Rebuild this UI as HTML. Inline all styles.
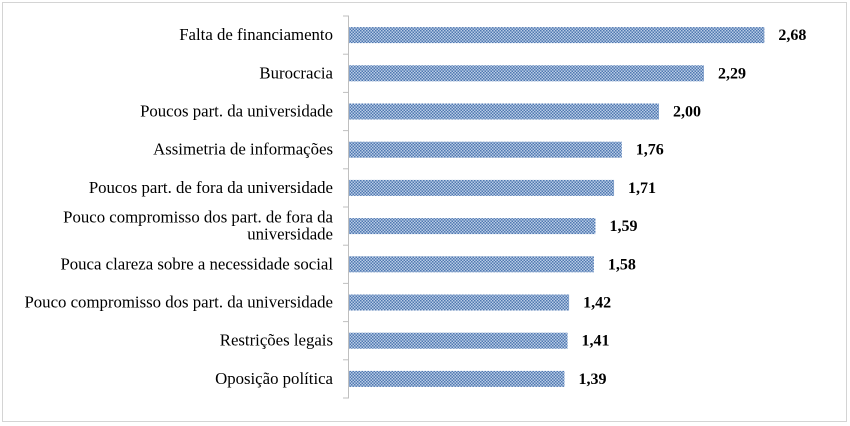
<!DOCTYPE html>
<html><head><meta charset="utf-8"><style>
html,body{margin:0;padding:0;background:#fff;}
svg{display:block;}
</style></head><body>
<svg id="chart" width="850" height="426">
<defs>
<pattern id="dots" width="3" height="3" patternUnits="userSpaceOnUse">
<rect width="3" height="3" fill="#b9cce6"/>
<rect x="0" y="0" width="1.5" height="1.5" fill="#4f77b0"/>
<rect x="1.5" y="1.5" width="1.5" height="1.5" fill="#4f77b0"/>
</pattern>
</defs>
<rect x="2.5" y="2.5" width="844" height="419" fill="#fff" stroke="#d4d4d4"/>
<g id="g"></g>
</svg>
<script>
const categories=["Falta de financiamento","Burocracia","Poucos part. da universidade","Assimetria de informações","Poucos part. de fora da universidade","Pouco compromisso dos part. de fora da|universidade","Pouca clareza sobre a necessidade social","Pouco compromisso dos part. da universidade","Restrições legais","Oposição política"];
const values=[2.68,2.29,2.00,1.76,1.71,1.59,1.58,1.42,1.41,1.39];
const valueLabels=["2,68","2,29","2,00","1,76","1,71","1,59","1,58","1,42","1,41","1,39"];
const x0=349, scale=155, yTop=16, yBottom=398;
const band=(yBottom-yTop)/categories.length;
const xs=v=>x0+v*scale;
const ys=i=>yTop+band*(i+0.5);
const g=document.getElementById('g');
const NS="http://www.w3.org/2000/svg";
const FF='"Liberation Serif", "Times New Roman", serif';
function mk(t,a){const e=document.createElementNS(NS,t);for(const k in a)e.setAttribute(k,a[k]);g.appendChild(e);return e;}
const ax=mk('line',{x1:x0-0.5,x2:x0-0.5,y1:yTop,y2:yBottom,stroke:'#bfbfbf'});


for(let i=0;i<=categories.length;i++){
  const t=mk('line',{x1:x0-6,x2:x0,y1:yTop+band*i,y2:yTop+band*i,stroke:'#bfbfbf'});
  
  
}
categories.forEach((c,i)=>{
  const y=ys(i);
  const b=mk('rect',{x:x0,y:y-8,width:xs(values[i])-x0,height:16,fill:'url(#dots)'});
  
  
  const lines=c.split('|');
  lines.forEach((ln,j)=>{
    const t=mk('text',{x:333,y:y+5+(j-(lines.length-1)/2)*17,'text-anchor':'end','font-size':'16.8','font-family':FF,fill:'#000'});
    t.style.fontFamily=FF;
    t.textContent=ln;
    
    
  });
  const v=mk('text',{x:xs(values[i])+14,y:y+5,'font-size':'16','font-weight':'bold','font-family':FF,fill:'#000'});
  v.style.fontFamily=FF;
  v.textContent=valueLabels[i];
  
  
});
</script>
</body></html>
